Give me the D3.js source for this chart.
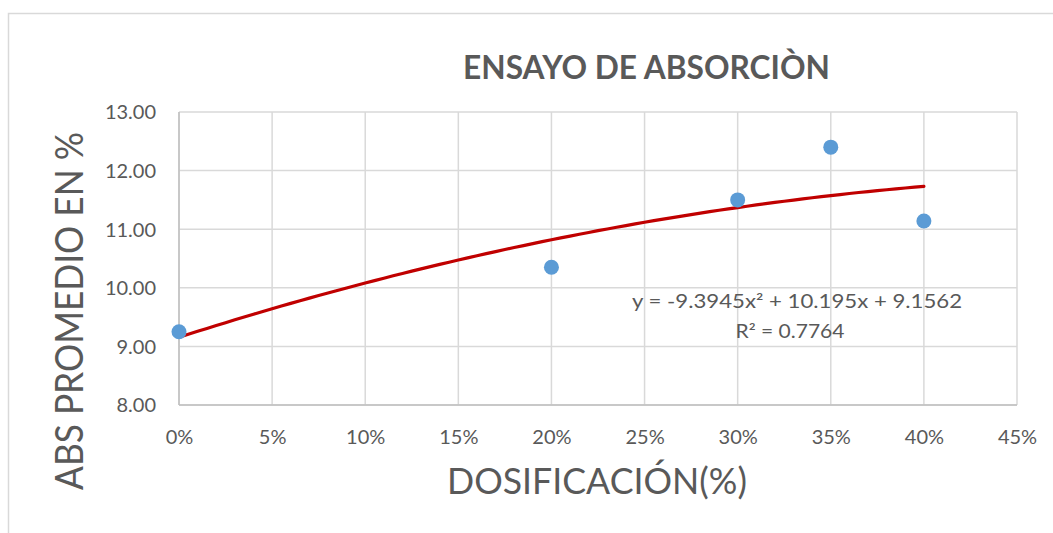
<!DOCTYPE html>
<html>
<head>
<meta charset="utf-8">
<script src="https://cdn.jsdelivr.net/npm/d3@7"></script>
<style>
  html, body { margin: 0; padding: 0; background: #fff; }
  svg { display: block; }
  text { font-family: Lato, "Open Sans", sans-serif; fill: #595959; }
</style>
</head>
<body>
<svg id="chart" width="1053" height="533"></svg>
<script>
// ---- data ----
const dosages = [0.00, 0.20, 0.30, 0.35, 0.40];
const absValues = [9.25, 10.35, 11.50, 12.40, 11.14];
const xTicks = [0, 0.05, 0.10, 0.15, 0.20, 0.25, 0.30, 0.35, 0.40, 0.45];
const yTicks = [8, 9, 10, 11, 12, 13];
const trendCoefficients = [-9.3945, 10.195, 9.1562]; // a, b, c of y = ax^2 + bx + c
const trendText = ["y = -9.3945x² + 10.195x + 9.1562", "R² = 0.7764"];
const titleText = "ENSAYO DE ABSORCIÒN";
const xTitle = "DOSIFICACIÓN(%)";
const yTitle = "ABS PROMEDIO EN %";

(function () {
const svg = d3.select("#chart");

// outer chart border
svg.append("rect")
  .attr("x", 8.5).attr("y", 13.5).attr("width", 1200).attr("height", 700)
  .attr("fill", "none").attr("stroke", "#d9d9d9").attr("stroke-width", 1.5);

const pl = 179, pr = 1017, pt = 112, pb = 405;
const x = d3.scaleLinear().domain([0, 0.45]).range([pl, pr]);
const y = d3.scaleLinear().domain([8, 13]).range([pb, pt]);

// gridlines
svg.append("g").selectAll("line").data(xTicks).join("line")
  .attr("x1", d => x(d)).attr("x2", d => x(d)).attr("y1", pt).attr("y2", pb)
  .attr("stroke", "#d9d9d9").attr("stroke-width", 1.5);
svg.append("g").selectAll("line").data(yTicks).join("line")
  .attr("x1", pl).attr("x2", pr).attr("y1", d => y(d)).attr("y2", d => y(d))
  .attr("stroke", "#d9d9d9").attr("stroke-width", 1.5);

// axes lines
svg.append("line").attr("x1", pl).attr("x2", pl).attr("y1", pt).attr("y2", pb)
  .attr("stroke", "#bfbfbf").attr("stroke-width", 1.5);
svg.append("line").attr("x1", pl).attr("x2", pr).attr("y1", pb).attr("y2", pb)
  .attr("stroke", "#bfbfbf").attr("stroke-width", 1.5);

// axes via d3 (labels only)
const xAxis = d3.axisBottom(x).tickValues(xTicks).tickFormat(d3.format(".0%")).tickSize(0).tickPadding(0);
const gx = svg.append("g").attr("transform", `translate(0,${pb})`).call(xAxis);
gx.select(".domain").remove();
gx.selectAll("text").attr("dy", null).attr("y", 39)
  .style("font-size", "20px").style("fill", "#595959").style("font-family", "Lato, 'Open Sans', sans-serif");

const yAxis = d3.axisLeft(y).tickValues(yTicks).tickFormat(d3.format(".2f")).tickSize(0).tickPadding(0);
const gy = svg.append("g").attr("transform", `translate(156,0)`).call(yAxis);
gy.select(".domain").remove();
gy.selectAll("text").attr("dy", "0.34em").attr("x", 0)
  .style("font-size", "20px").style("fill", "#595959").style("font-family", "Lato, 'Open Sans', sans-serif");

// trendline
const trendX = d3.range(0, 0.4001, 0.005);
const f = t => trendCoefficients[0] * t * t + trendCoefficients[1] * t + trendCoefficients[2];
svg.append("path")
  .datum(trendX)
  .attr("d", d3.line().x(d => x(d)).y(d => y(f(d))))
  .attr("fill", "none").attr("stroke", "#c00000").attr("stroke-width", 3.2)
  .attr("stroke-linecap", "round");

// points
svg.append("g").selectAll("circle").data(dosages).join("circle")
  .attr("cx", d => x(d)).attr("cy", (d, i) => y(absValues[i])).attr("r", 7.5)
  .attr("fill", "#5b9bd5");

// trend equation
svg.append("text").attr("x", 797).attr("y", 308).attr("text-anchor", "middle")
  .attr("textLength", 330).attr("lengthAdjust", "spacingAndGlyphs")
  .style("font-size", "18.5px").text(trendText[0]);
svg.append("text").attr("x", 790).attr("y", 338).attr("text-anchor", "middle")
  .attr("textLength", 109).attr("lengthAdjust", "spacingAndGlyphs")
  .style("font-size", "18.5px").text(trendText[1]);

// title
svg.append("text").attr("x", 646.5).attr("y", 79).attr("text-anchor", "middle")
  .attr("textLength", 367).attr("lengthAdjust", "spacingAndGlyphs")
  .style("font-size", "33px").style("font-weight", "bold").text(titleText);

// x title
svg.append("text").attr("x", 597).attr("y", 494).attr("text-anchor", "middle")
  .attr("textLength", 300).attr("lengthAdjust", "spacingAndGlyphs")
  .style("font-size", "36px").text(xTitle);

// y title
svg.append("text").attr("transform", "translate(83,311) rotate(-90)").attr("text-anchor", "middle")
  .attr("textLength", 358).attr("lengthAdjust", "spacingAndGlyphs")
  .style("font-size", "39px").text(yTitle);
})();
</script>
</body>
</html>
